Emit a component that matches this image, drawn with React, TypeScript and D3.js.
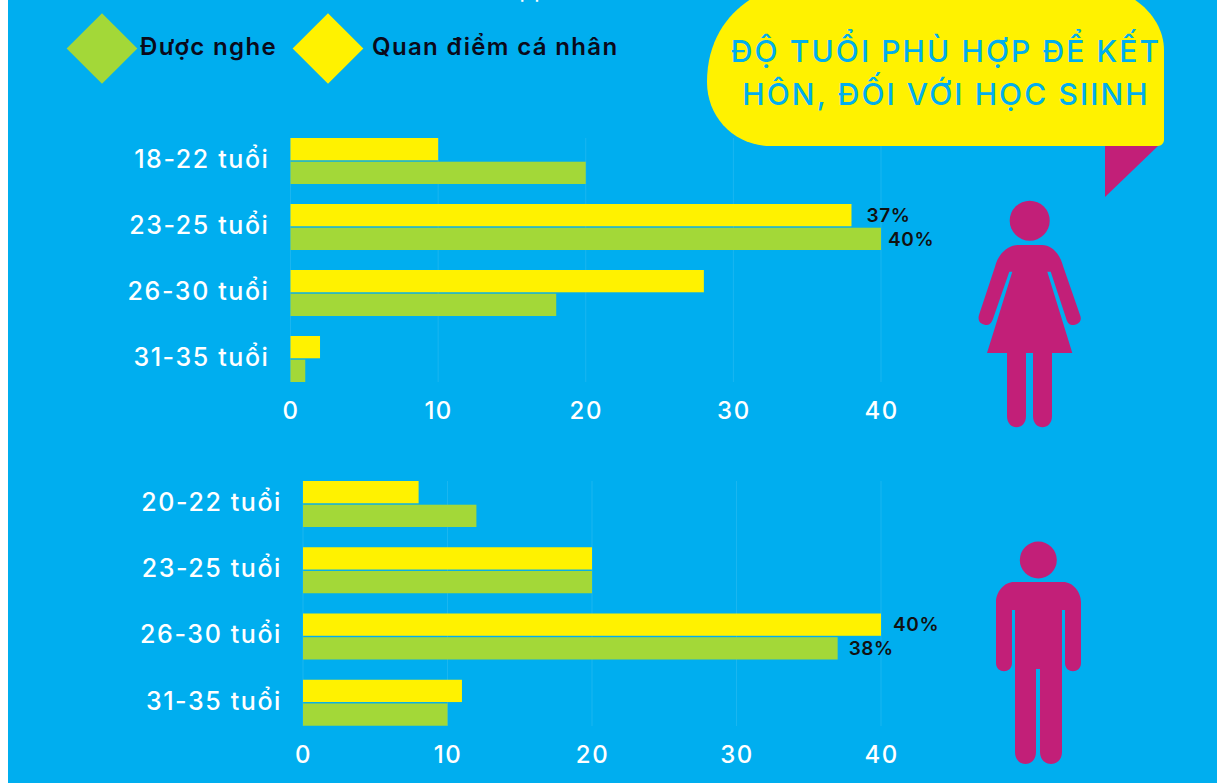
// Infographic: suitable marriage age for students, female and male panels
import { useEffect, useRef } from "react";
import * as d3 from "d3";

const FEMALE_AGES = ["18-22 tuổi", "23-25 tuổi", "26-30 tuổi", "31-35 tuổi"];
const FEMALE_OPINION = [10, 38, 28, 2];
const FEMALE_HEARD = [20, 40, 18, 1];

const MALE_AGES = ["20-22 tuổi", "23-25 tuổi", "26-30 tuổi", "31-35 tuổi"];
const MALE_OPINION = [8, 20, 40, 11];
const MALE_HEARD = [12, 20, 37, 10];

const TICKS = [0, 10, 20, 30, 40];

const BLUE = "#00aeef";
const YELLOW = "#fff200";
const GREEN = "#a3d838";
const MAGENTA = "#c21f78";
const FONT = "Inter, 'Open Sans', sans-serif";

// Icons traced from the picture, not data
const WOMAN_BODY =
  "M1018 245 H1042 C1052 245 1060 254 1063.3 266.7 L1080 315 C1083 322 1077 325 1072 325 C1069 325 1067 322 1066 318 L1050.7 271.7 H1047.3 L1072.3 353 H1052 V416 C1052 431 1033 431 1033 416 V353 H1026 V416 C1026 431 1007 431 1007 416 V353 H987 L1012.3 271.7 H1009.3 L993.3 318 C992 322 990 325 987 325 C982 325 977 322 979 315 L995 266.7 C998 254 1008 245 1018 245 Z";
const MAN_BODY =
  "M1014 582 H1063 C1073 582 1081 592 1081 602 V663 C1081 674 1065 674 1065 663 V610 H1062 V752 C1062 768 1040 768 1040 752 V669 H1036 V752 C1036 768 1015 768 1015 752 V610 H1012 V663 C1012 674 996 674 996 663 V602 C996 592 1004 582 1014 582 Z";

type Panel = {
  ages: string[];
  opinion: number[];
  heard: number[];
  left: number;
  right: number;
  top: number;
  bottom: number;
  axisY: number;
};

const PANELS: Panel[] = [
  { ages: FEMALE_AGES, opinion: FEMALE_OPINION, heard: FEMALE_HEARD, left: 290.5, right: 881, top: 138, bottom: 382, axisY: 382 },
  { ages: MALE_AGES, opinion: MALE_OPINION, heard: MALE_HEARD, left: 303, right: 881, top: 481, bottom: 726, axisY: 726 },
];

// Labels as printed in the source, they do not all agree with the bars
const NOTE_PANELS = [0, 0, 1, 1];
const NOTE_ROWS = [1, 1, 2, 2];
const NOTE_KEYS = ["opinion", "heard", "opinion", "heard"];
const NOTE_TEXTS = ["37%", "40%", "40%", "38%"];
const NOTE_GAPS = [15, 7, 12, 11];

export default function App() {
  const ref = useRef<SVGSVGElement>(null);

  useEffect(() => {
    const svg = d3.select(ref.current);
    svg.selectAll("*").remove();

    svg.append("rect").attr("width", 1217).attr("height", 783).attr("fill", BLUE);
    svg.append("rect").attr("width", 8).attr("height", 783).attr("fill", "#fff");

    // Cut off text at the top edge
    svg.append("text")
      .attr("x", 534).attr("y", -3)
      .attr("text-anchor", "middle")
      .attr("font-family", FONT).attr("font-size", 24).attr("fill", "#fff")
      .text("pp");

    PANELS.forEach((p, pi) => {
      const x = d3.scaleLinear().domain([0, 40]).range([p.left, p.right]);
      const y = d3.scaleBand().domain(p.ages).range([p.top, p.bottom + 20]).paddingInner(0).paddingOuter(0);
      const sub = d3.scaleBand().domain(["opinion", "heard"]).range([0, 46]).paddingInner(0.06);
      const g = svg.append("g");

      // Axis, with the faint grid lines as long ticks
      const axis = g.append("g")
        .attr("transform", `translate(0,${p.axisY})`)
        .call(d3.axisBottom(x).tickValues(TICKS).tickSize(0).tickPadding(20));
      axis.select(".domain").remove();
      axis.selectAll("text")
        .attr("font-family", FONT).attr("font-size", 24).attr("font-weight", 500)
        .attr("letter-spacing", 1.5).attr("fill", "#fff");
      TICKS.forEach((t) => {
        g.append("line")
          .attr("x1", x(t)).attr("x2", x(t))
          .attr("y1", p.top).attr("y2", p.axisY)
          .attr("stroke", "#fff").attr("stroke-opacity", 0.1);
      });

      p.ages.forEach((age, i) => {
        const y0 = y(age)!;
        g.append("rect")
          .attr("x", x(0)).attr("y", y0 + sub("opinion")!)
          .attr("width", x(p.opinion[i]) - x(0)).attr("height", sub.bandwidth())
          .attr("fill", YELLOW);
        g.append("rect")
          .attr("x", x(0)).attr("y", y0 + sub("heard")!)
          .attr("width", x(p.heard[i]) - x(0)).attr("height", sub.bandwidth())
          .attr("fill", GREEN);
        g.append("text")
          .attr("x", p.left - 21).attr("y", y0 + 21)
          .attr("dy", "0.35em")
          .attr("text-anchor", "end")
          .attr("font-family", FONT).attr("font-size", 25).attr("font-weight", 500)
          .attr("letter-spacing", 1.6).attr("fill", "#fff")
          .text(age);
      });

      NOTE_TEXTS.forEach((text, n) => {
        if (NOTE_PANELS[n] !== pi) return;
        const key = NOTE_KEYS[n];
        const vals = key === "opinion" ? p.opinion : p.heard;
        g.append("text")
          .attr("x", x(vals[NOTE_ROWS[n]]) + NOTE_GAPS[n])
          .attr("y", y(p.ages[NOTE_ROWS[n]])! + sub(key)! + sub.bandwidth() / 2)
          .attr("dy", "0.35em")
          .attr("font-family", FONT).attr("font-size", 19).attr("font-weight", 600)
          .attr("letter-spacing", 0.6).attr("fill", "#111")
          .text(text);
      });
    });

    // Legend
    const diamond = d3.symbol().type(d3.symbolSquare).size(2500);
    [
      { cx: 102, color: GREEN, label: "Được nghe", tx: 140 },
      { cx: 328, color: YELLOW, label: "Quan điểm cá nhân", tx: 372 },
    ].forEach((l) => {
      svg.append("path")
        .attr("d", diamond())
        .attr("transform", `translate(${l.cx},48.5) rotate(45)`)
        .attr("fill", l.color);
      svg.append("text")
        .attr("x", l.tx).attr("y", 55)
        .attr("font-family", FONT).attr("font-size", 24).attr("font-weight", 600)
        .attr("letter-spacing", 1.35).attr("fill", "#0a0a1a")
        .text(l.label);
    });

    // Speech bubble
    svg.append("path")
      .attr("d", "M1105 140 H1158 V146 L1105 197 Z")
      .attr("fill", MAGENTA);
    svg.append("path")
      .attr("d", "M707 82 C707 30 740 0 770 -10 H1115 C1145 0 1164 25 1164 50 V140 C1164 143 1161 146 1158 146 H771 C735 146 707 118 707 82 Z")
      .attr("fill", YELLOW);
    [
      { text: "ĐỘ TUỔI PHÙ HỢP ĐỂ KẾT", y: 62 },
      { text: "HÔN, ĐỐI VỚI HỌC SIINH", y: 105 },
    ].forEach((l) => {
      svg.append("text")
        .attr("x", 946).attr("y", l.y)
        .attr("text-anchor", "middle")
        .attr("font-family", FONT).attr("font-size", 30).attr("font-weight", 500).attr("letter-spacing", 2.1).attr("fill", BLUE)
        .text(l.text);
    });

    // People
    svg.append("circle").attr("cx", 1029.7).attr("cy", 220.7).attr("r", 20).attr("fill", MAGENTA);
    svg.append("path").attr("d", WOMAN_BODY).attr("fill", MAGENTA);
    svg.append("circle").attr("cx", 1038.3).attr("cy", 560).attr("r", 18.5).attr("fill", MAGENTA);
    svg.append("path").attr("d", MAN_BODY).attr("fill", MAGENTA);
  }, []);

  return (
    <svg
      ref={ref}
      width={1217}
      height={783}
      style={{ position: "absolute", left: 0, top: 0, display: "block" }}
    />
  );
}
